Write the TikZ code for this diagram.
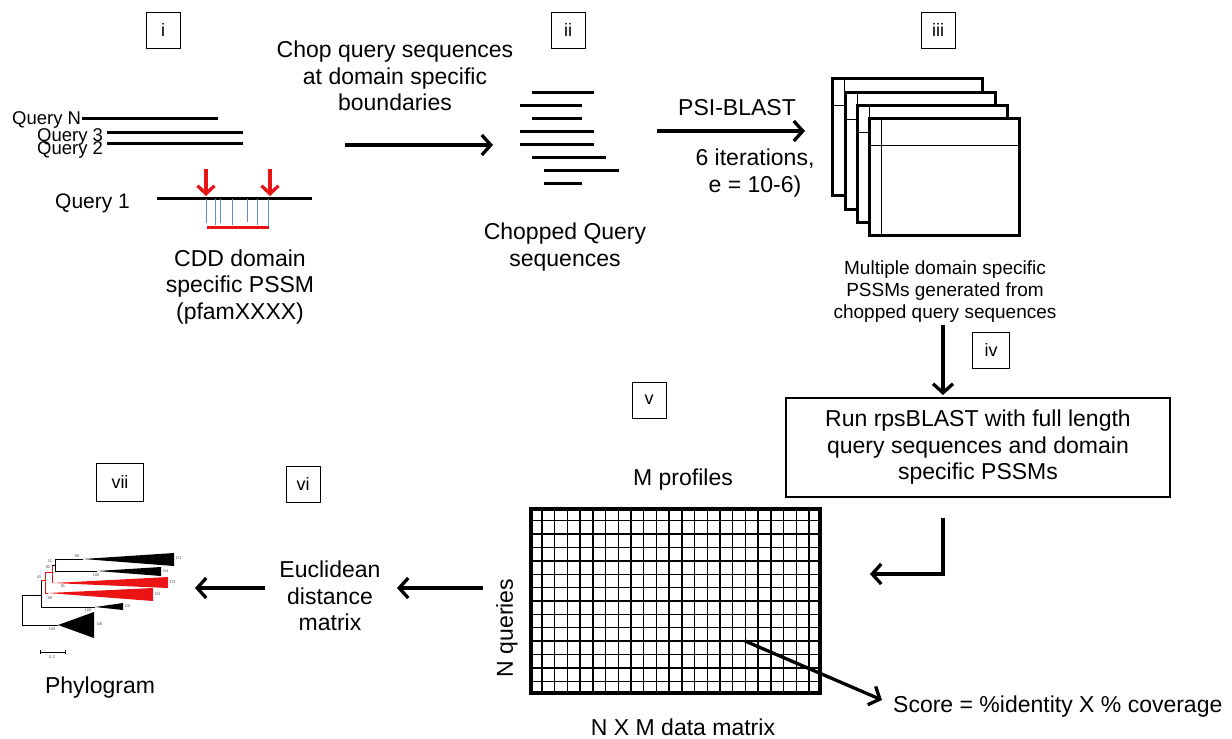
\documentclass[tikz,border=0pt]{standalone}
\usepackage{fontspec}
\setmainfont{Liberation Sans}
\usetikzlibrary{arrows.meta,positioning,calc}
\definecolor{cutred}{RGB}{235,20,20}
\definecolor{hitblue}{RGB}{95,140,200}
\begin{document}
\begin{tikzpicture}[x=1pt,y=-1pt,
	lbl/.style={draw,line width=1pt,minimum width=34pt,minimum height=36pt,inner sep=0pt,font=\fontsize{18}{18}\selectfont},
	txt/.style={align=center,inner sep=0pt,font=\fontsize{23}{26.5}\selectfont},
	qry/.style={inner sep=0pt,font=\fontsize{18.5}{18.5}\selectfont},
	seq/.style={line width=3pt},
	arr/.style={line width=3.3pt,-{Straight Barb[length=9pt,width=20pt]}},
	cut/.style={cutred,line width=3.3pt,-{Straight Barb[length=8pt,width=17pt]}},
	hit/.style={hitblue,line width=1pt},
	frame/.style={draw,fill=white,line width=3pt},
	cell/.style={line width=1.4pt},
	br/.style={line width=0.7pt},
	tip/.style={inner sep=0pt,font=\fontsize{4}{4}\selectfont,text=black!70}]
	\useasboundingbox (0,0) rectangle (1232,739);

	% step labels
	\node[lbl] (si) at (163,30) {i};
	\node[lbl] (sii) at (568,30) {ii};
	\node[lbl] (siii) at (938,30) {iii};
	\node[lbl,minimum width=37pt] (siv) at (991,350) {iv};
	\node[lbl] (sv) at (649,400) {v};
	\node[lbl] (svi) at (303,484) {vi};
	\node[lbl,minimum width=47pt,minimum height=38pt] (svii) at (120,482) {vii};

	% queries
	\node[qry,anchor=base west] (qN) at (12,124) {Query N};
	\node[qry,anchor=base west] (q3) at (37,141) {Query 3};
	\node[qry,anchor=base west] (q2) at (37,154) {Query 2};
	\node[inner sep=0pt,font=\fontsize{21}{21}\selectfont,anchor=base west] (q1) at (55,208) {Query 1};
	\draw[seq] (82,118) -- (218,118);
	\draw[seq] (107,132) -- (243,132);
	\draw[seq] (107,143) -- (243,143);
	\draw[seq] (157,198) -- (312,198);
	\foreach \x/\l in {206/24,215/26,220/24,232/26,247/23,257/26,268/28}
		\draw[hit] (\x,199) -- ++(0,\l);
	\draw[cutred,line width=3pt] (207,227) -- (269,227);
	\draw[cut] (206,169) -- (206,196);
	\draw[cut] (270,169) -- (270,196);
	\node[txt] (cdd) at (240,287) {CDD domain\\specific PSSM\\(pfamXXXX)};

	% chopping
	\node[txt] (chop) at (395,76) {Chop query sequences\\at domain specific\\boundaries};
	\coordinate (c1) at (345,145);
	\coordinate (c2) at (493,145);
	\draw[arr] (c1) -- (c2);
	\foreach \a/\b/\y in {532/594/92,520/582/105,532/582/118,520/594/131,520/594/144,532/606/157,544/619/170,544/582/183}
		\draw[seq] (\a,\y) -- (\b,\y);
	\node[txt] (chopped) at (565,247) {Chopped Query\\sequences};

	% psi-blast
	\node[txt] (psi) at (737,108) {PSI-BLAST};
	\coordinate (p1) at (657,131);
	\coordinate (p2) at (805,131);
	\draw[arr] (p1) -- (p2);
	\node[txt] (iter) at (755,173) {6 iterations,\\e = 10-6)};
	\foreach \x/\y in {832/78,845/92,857/105,869/118} {
		\path[frame] (\x,\y) rectangle ++(150,117);
		\draw[line width=1pt] (\x+12,\y) -- ++(0,117) (\x,\y+27) -- ++(150,0);
	}
	\node[align=center,inner sep=0pt,font=\fontsize{19}{22}\selectfont] (pssm) at (945,292) {Multiple domain specific\\PSSMs generated from\\chopped query sequences};

	% rpsblast
	\node[draw,line width=1.5pt,minimum width=384pt,minimum height=99pt,txt] (rps) at (978,447.5) {Run rpsBLAST with full length\\query sequences and domain\\specific PSSMs};
	\draw[arr] (943,325) -- (943,395);
	\coordinate (e1) at (943,518);
	\coordinate (e2) at (870,574);
	\draw[arr] (e1) |- (e2);

	% data matrix
	\node[draw,line width=3.5pt,minimum width=289pt,minimum height=184pt,inner sep=0pt] (mat) at (675.5,601) {};
	\foreach \c in {1,...,22}
		\draw[cell] ($(mat.north west)!\c/23!(mat.north east)$) -- ($(mat.south west)!\c/23!(mat.south east)$);
	\foreach \r in {1,...,13}
		\draw[cell] ($(mat.north west)!\r/14!(mat.south west)$) -- ($(mat.north east)!\r/14!(mat.south east)$);
	\node[txt] (mprof) at (683,480) {M profiles};
	\node[txt,rotate=90] (nq) at (507,628) {N queries};
	\node[txt] (nxm) at (683,727) {N X M data matrix};
	\node[txt,anchor=west] (score) at (893,707) {Score = \%identity X \% coverage};
	\coordinate (s1) at (745,641);
	\coordinate (s2) at (882,700);
	\draw[arr] (s1) -- (s2);

	% distance and tree
	\node[txt] (dist) at (330,596) {Euclidean\\distance\\matrix};
	\coordinate (d1) at (483,588);
	\coordinate (d2) at (397,588);
	\draw[arr] (d1) -- (d2);
	\coordinate (t1) at (265,588);
	\coordinate (t2) at (195,588);
	\draw[arr] (t1) -- (t2);
	\node[txt] (phylo) at (100,688) {Phylogram};

	% phylogram
	\draw[br] (22,595) -- (22,625) -- (58,625);
	\fill (58,625) -- (94,612) -- (94,638) -- cycle;
	\draw[br] (22,595) -- (41,595) (41,580) -- (41,607) -- (95,607);
	\fill (95,607) -- (123,603) -- (123,610) -- cycle;
	\draw[br,cutred] (41,580) -- (45,580) (45,572) -- (45,593) -- (48,593) (45,572) -- (52,572) (52,565) -- (52,583);
	\fill[cutred] (48,593) -- (153,588) -- (153,601) -- cycle;
	\fill[cutred] (53,583) -- (168,577) -- (168,588) -- cycle;
	\draw[br] (52,565) -- (55,565) (55,559) -- (55,571) (55,559) -- (83,559) (55,571) -- (97,571);
	\fill (83,559) -- (174,553) -- (174,566) -- cycle;
	\fill (97,571) -- (161,567) -- (161,576) -- cycle;
	\draw[br] (40,652) -- (65,652) (40,650) -- (40,654) (65,650) -- (65,654);
	\node[tip] at (52,657) {0.2};
	\node[tip] at (77,556) {95};
	\node[tip] at (50,561) {11};
	\node[tip] at (48,567) {81};
	\node[tip] at (39,577) {43};
	\node[tip] at (96,575) {100};
	\node[tip] at (63,586) {51};
	\node[tip] at (50,598) {59};
	\node[tip] at (88,610) {100};
	\node[tip] at (52,629) {100};
	\node[tip,anchor=west] at (176,558) {D1};
	\node[tip,anchor=west] at (163,571) {D4};
	\node[tip,anchor=west] at (170,582) {D3};
	\node[tip,anchor=west] at (155,594) {D2};
	\node[tip,anchor=west] at (125,606) {D5};
	\node[tip,anchor=west] at (97,624) {D6};
\end{tikzpicture}
\end{document}
